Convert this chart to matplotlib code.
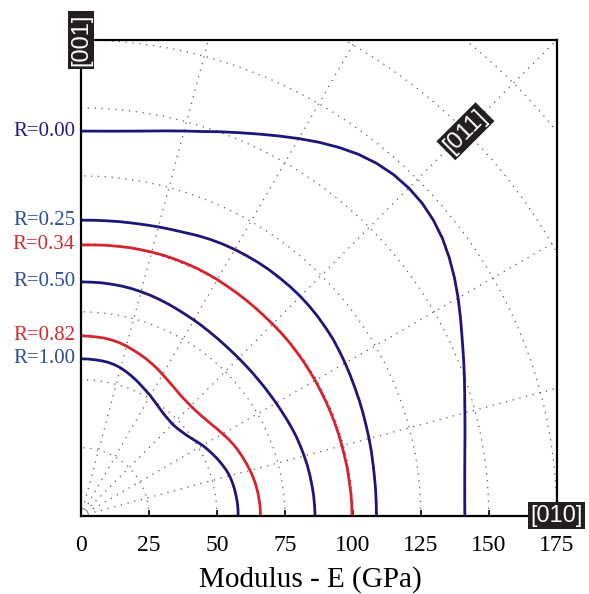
import numpy as np
import matplotlib
matplotlib.use("Agg")
import matplotlib.pyplot as plt

# Directional modulus E(theta) in the (100) plane, theta measured from [010] towards [001]
ANGLES_DEG = [0, 2.5, 5, 7.5, 10, 12.5, 15, 17.5, 20, 22.5, 25, 27.5, 30, 32.5, 35, 37.5,
              40, 42.5, 45, 47.5, 50, 52.5, 55, 57.5, 60, 62.5, 65, 67.5, 70, 72.5, 75,
              77.5, 80, 82.5, 85, 87.5, 90]

E_R000 = [141.2, 141.3, 141.7, 142.4, 143.4, 144.7, 146.2, 148.0, 150.1, 152.3, 154.7,
          157.4, 160.2, 162.9, 165.4, 167.6, 169.2, 170.2, 170.5, 170.2, 169.2, 167.6,
          165.4, 162.9, 160.2, 157.5, 154.9, 152.5, 150.3, 148.2, 146.5, 145.0, 143.7,
          142.7, 142.0, 141.6, 141.5]
E_R025 = [108.7, 108.7, 108.8, 108.9, 109.1, 109.4, 109.7, 110.0, 110.4, 110.8, 111.2,
          111.7, 112.2, 112.7, 113.2, 113.5, 113.8, 114.0, 114.1, 114.1, 114.0, 113.9,
          113.7, 113.4, 113.1, 112.7, 112.2, 111.6, 110.9, 110.4, 110.0, 109.6, 109.3,
          109.1, 108.9, 108.8, 108.7]
E_R034 = [99.7, 99.7, 99.6, 99.5, 99.5, 99.4, 99.4, 99.4, 99.4, 99.4, 99.4, 99.4, 99.5,
          99.5, 99.6, 99.6, 99.7, 99.7, 99.7, 99.7, 99.8, 99.9, 100.0, 100.1, 100.3,
          100.4, 100.5, 100.5, 100.5, 100.5, 100.4, 100.3, 100.2, 100.0, 99.9, 99.7, 99.6]
E_R050 = [86.1, 86.0, 85.9, 85.7, 85.5, 85.3, 85.0, 84.7, 84.4, 84.0, 83.6, 83.2, 82.9,
          82.6, 82.4, 82.2, 82.1, 82.0, 82.0, 82.0, 82.1, 82.3, 82.5, 82.8, 83.1, 83.4,
          83.8, 84.2, 84.6, 85.0, 85.3, 85.6, 85.8, 85.9, 86.0, 86.0, 86.0]
E_R082 = [66.0, 66.0, 65.8, 65.6, 65.3, 64.9, 64.4, 63.8, 63.2, 62.6, 61.9, 61.1, 60.2,
          59.4, 58.6, 58.0, 57.5, 57.2, 57.1, 57.2, 57.4, 57.9, 58.5, 59.2, 60.0, 60.9,
          61.7, 62.5, 63.2, 63.9, 64.6, 65.2, 65.6, 65.9, 66.0, 66.1, 66.2]
E_R100 = [57.8, 57.8, 57.7, 57.5, 57.3, 57.0, 56.6, 56.0, 55.2, 54.4, 53.5, 52.6, 51.7,
          50.6, 49.6, 48.8, 48.2, 47.8, 47.6, 47.8, 48.1, 48.6, 49.3, 50.1, 51.0, 51.8,
          52.7, 53.7, 54.6, 55.5, 56.3, 56.9, 57.3, 57.5, 57.6, 57.7, 57.7]

CURVES = [E_R000, E_R025, E_R034, E_R050, E_R082, E_R100]
R_LABELS = ["R=0.00", "R=0.25", "R=0.34", "R=0.50", "R=0.82", "R=1.00"]
LINE_COLORS = ["#1c1679", "#1c1679", "#d6232d", "#1c1679", "#d6232d", "#1c1679"]
TEXT_COLORS = ["#1f1a80", "#2d4a9c", "#d42a30", "#2d4a9c", "#d42a30", "#2d4a9c"]

X_TICKS = [0, 25, 50, 75, 100, 125, 150, 175]
GRID_RADII = [25, 50, 75, 100, 125, 150, 175, 200, 225, 250]
GRID_SPOKES_DEG = [15, 30, 45, 60, 75]

SERIF = ["Liberation Serif", "DejaVu Serif"]
SANS = ["Liberation Sans", "DejaVu Sans"]

fig = plt.figure(figsize=(5.89, 5.94), dpi=100)
ax = fig.add_axes([81 / 589, 78.3 / 594, 475.7 / 589, 475.7 / 594])
ax.set_xlim(0, 175)
ax.set_ylim(0, 175)

# dotted polar grid
grid_kw = dict(color="0.35", lw=0.9, ls=(0, (1, 4.5)), zorder=1)
t = np.linspace(0, np.pi / 2, 400)
for rad in GRID_RADII:
    ax.plot(rad * np.cos(t), rad * np.sin(t), **grid_kw)
for ang in GRID_SPOKES_DEG:
    a = np.deg2rad(ang)
    ax.plot([0, 260 * np.cos(a)], [0, 260 * np.sin(a)], **grid_kw)

# modulus curves
th = np.deg2rad(ANGLES_DEG)
for radii, lab, lc, tc in zip(CURVES, R_LABELS, LINE_COLORS, TEXT_COLORS):
    r = np.asarray(radii)
    ax.plot(r * np.cos(th), r * np.sin(th), color=lc, lw=2.0, zorder=3,
            solid_capstyle="butt", solid_joinstyle="round")
    ax.text(-2.2, r[-1], lab, ha="right", va="center", fontsize=15,
            family=SERIF, color=tc, clip_on=False)

# crystallographic direction tags
tag_kw = dict(color="white", fontsize=17, family=SANS, ha="center", va="center",
              clip_on=False, zorder=6, rotation_mode="anchor",
              bbox=dict(boxstyle="square,pad=0.1", fc="#231f20", ec="none"))
ax.text(0, 175, "[001]", rotation=90, **tag_kw)
ax.text(200 * np.cos(np.pi / 4), 200 * np.sin(np.pi / 4), "[011]", rotation=45, **tag_kw)
ax.text(175, 0, "[010]", rotation=0, **tag_kw)

for s in ax.spines.values():
    s.set_linewidth(1.6)
    s.set_zorder(5)

ax.set_xticks(X_TICKS)
ax.set_xticklabels([str(v) for v in X_TICKS], family=SERIF, fontsize=17)
ax.tick_params(axis="x", direction="in", length=4, width=1.2, pad=14)
ax.set_yticks([])

fig.text(310 / 589, 7 / 594, "Modulus - E (GPa)", ha="center", va="baseline",
         fontsize=21, family=SERIF)

fig.savefig("out.png", dpi=100)
